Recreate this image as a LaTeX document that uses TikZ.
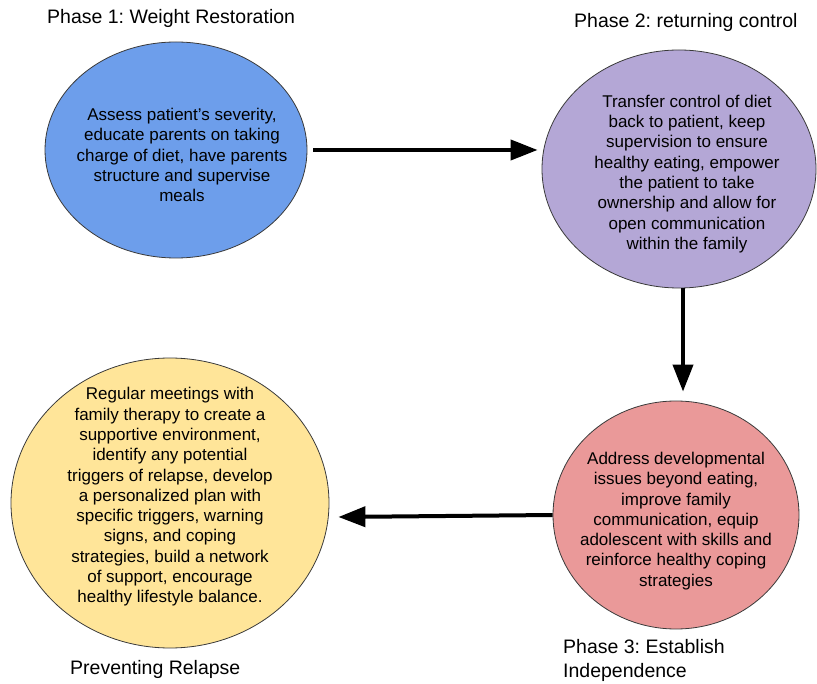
\documentclass[tikz,border=0pt]{standalone}
\usepackage{fontspec}
\setmainfont{Liberation Sans}
\usetikzlibrary{shapes.geometric,arrows.meta,positioning,calc}
\definecolor{PhaseBlue}{HTML}{6D9EEB}
\definecolor{PhasePurple}{HTML}{B4A7D6}
\definecolor{PhaseRed}{HTML}{EA9999}
\definecolor{PhaseYellow}{HTML}{FFE599}
\definecolor{RimGray}{HTML}{3A3A3A}
\frenchspacing

\tikzset{
  phase/.style={ellipse,draw=RimGray,line width=0.8pt,inner sep=0pt},
  desc/.style={align=center,inner sep=0pt,font=\fontsize{17}{20.3}\selectfont},
  caption/.style={align=left,inner sep=0pt,anchor=west,font=\fontsize{19.5}{24}\selectfont},
  flow/.style={line width=4pt,-{Triangle[length=27pt,width=20pt]}}
}

\begin{document}
\begin{tikzpicture}[x=1pt,y=-1pt]
  \fill[white] (0,0) rectangle (817,684);
  \useasboundingbox (0,0) rectangle (817,684);

  % the four phases
  \node[phase,fill=PhaseBlue,minimum width=262pt,minimum height=216pt] (p1) at (176,150) {};
  \node[phase,fill=PhasePurple,minimum width=274pt,minimum height=238pt] (p2) at (679,169) {};
  \node[phase,fill=PhaseRed,minimum width=246pt,minimum height=228pt] (p3) at (676,515) {};
  \node[phase,fill=PhaseYellow,minimum width=318pt,minimum height=290pt] (p4) at (170,503) {};

  \node[desc] (t1) at ($(p1.center)+(6,5)$) {Assess patient’s severity,\\educate parents on taking\\charge of diet, have parents\\structure and supervise\\meals};
  \node[desc] (t2) at ($(p2.center)+(8,5)$) {Transfer control of diet\\back to patient, keep\\supervision to ensure\\healthy eating, empower\\the patient to take\\ownership and allow for\\open communication\\within the family};
  \node[desc] (t3) at ($(p3.center)+(0,6)$) {Address developmental\\issues beyond eating,\\improve family\\communication, equip\\adolescent with skills and\\reinforce healthy coping\\strategies};
  \node[desc] (t4) at ($(p4.center)+(0,-6)$) {Regular meetings with\\family therapy to create a\\supportive environment,\\identify any potential\\triggers of relapse, develop\\a personalized plan with\\specific triggers, warning\\signs, and coping\\strategies, build a network\\of support, encourage\\healthy lifestyle balance.};

  % captions
  \node[caption] (c1) at (47,18) {Phase 1: Weight Restoration};
  \node[caption] (c2) at (574,22) {Phase 2: returning control};
  \node[caption] (c3) at (563,660) {Phase 3: Establish\\Independence};
  \node[caption] (c4) at (70,669) {Preventing Relapse};

  % arrows
  \draw[flow] ($(p1.east)+(6,0)$) -- ($(p1.east -| p2.west)+(-4,0)$);
  \draw[flow] ($(p2.south)+(4,0)$) -- ($(p3.north)+(7,-9)$);
  \draw[flow] (p3.west) -- ($(p4.east |- p3.west)+(9,2)$);
\end{tikzpicture}
\end{document}
